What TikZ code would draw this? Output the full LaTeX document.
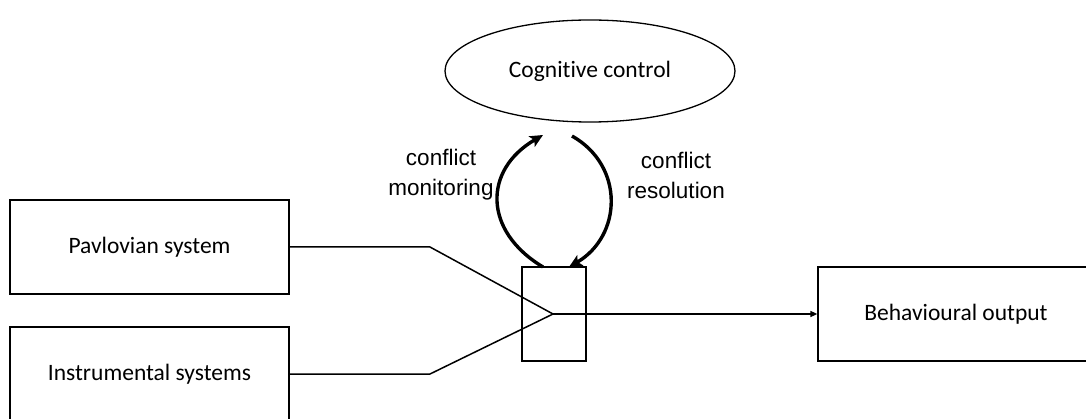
\documentclass[tikz,border=0pt]{standalone}
\usepackage{fontspec}
\setmainfont{Carlito}[Ligatures={NoCommon}]
\newfontfamily\arialfont{Liberation Sans}
\usetikzlibrary{arrows.meta,shapes.geometric}
\tikzset{
  boxnode/.style={draw, line width=1.3pt, rectangle, inner sep=0pt, minimum width=279pt, minimum height=94pt, font=\fontsize{23.5}{28}\selectfont},
  lbl/.style={align=center, font=\arialfont\fontsize{22.5}{30}\selectfont, inner sep=0pt},
  thin/.style={line width=1.5pt},
  loop/.style={line width=3.4pt, -{Stealth[length=13pt,width=12pt,inset=3pt]}},
}
\begin{document}
\begin{tikzpicture}[x=1pt,y=-1pt]
\useasboundingbox (0,0) rectangle (1086,419);
\clip (0,0) rectangle (1086,419);
\node[draw, line width=1.3pt, ellipse, minimum width=290pt, minimum height=102pt, inner sep=0pt, font=\fontsize{23.5}{28}\selectfont] (cog) at (590,71) {Cognitive control};
\node[boxnode] (pav) at (149.5,247) {Pavlovian system};
\node[boxnode] (ins) at (149.5,374) {Instrumental systems};
\node[boxnode, minimum width=276pt] (beh) at (956,314) {Behavioural output};
\node[draw, line width=1.3pt, rectangle, minimum width=64pt, minimum height=94pt, inner sep=0pt] (mix) at (554,314) {};
\coordinate (J) at (553,314);
\coordinate (bp) at (430,247);
\coordinate (bi) at (430,374);
\coordinate (la) at (543,267);
\coordinate (lb) at (543,135);
\coordinate (ra) at (572,136);
\coordinate (rb) at (569,267);
\draw[thin] (pav.east) -- (bp) -- (J);
\draw[thin] (ins.east) -- (bi) -- (J);
\draw[thin, -{Triangle[length=7pt,width=6pt]}] (J) -- (beh.west);
\draw[loop] (la) .. controls (483,231) and (483,170) .. (lb);
\draw[loop] (ra) .. controls (625,166) and (622,236) .. (rb);
\node[lbl] (cm) at (441,175) {conflict\\monitoring};
\node[lbl] (cr) at (676,175) {conflict\\resolution};
\end{tikzpicture}
\end{document}
